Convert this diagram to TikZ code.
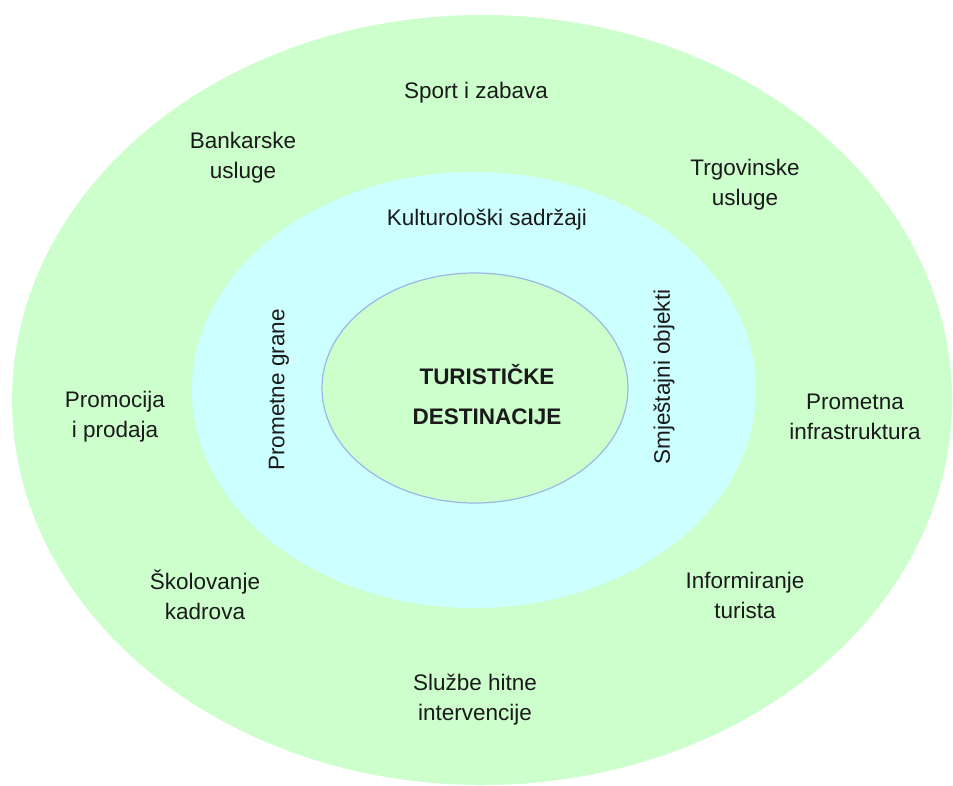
\documentclass[tikz,border=0pt]{standalone}
\usepackage{fontspec}
\setmainfont{Liberation Sans}
\definecolor{outergreen}{HTML}{CCFFCC}
\definecolor{midcyan}{HTML}{CCFFFF}
\definecolor{innerline}{HTML}{99B8E8}
\definecolor{txt}{HTML}{1A1A1A}
\begin{document}
\begin{tikzpicture}[x=1pt,y=-1pt,
  lbl/.style={align=center, text=txt, inner sep=0pt, font=\fontsize{22.5}{30}\selectfont},
  boldlbl/.style={lbl, font=\fontsize{22.5}{40}\selectfont\bfseries}]
\useasboundingbox (0,0) rectangle (953,785);
% rings
\fill[outergreen] (482,400) ellipse [x radius=470, y radius=385];
\fill[midcyan] (474,390) ellipse [x radius=282, y radius=218];
\filldraw[fill=outergreen, draw=innerline, line width=1.2pt] (475,388) ellipse [x radius=153, y radius=115];
% outer ring labels
\node[lbl] (sport) at (476,93) {Sport i zabava};
\node[lbl] (bank) at (243,158) {Bankarske\\usluge};
\node[lbl] (trg) at (745,185) {Trgovinske\\usluge};
\node[lbl] (promo) at (115,417) {Promocija\\i prodaja};
\node[lbl] (infra) at (855,417) {Prometna\\infrastruktura};
\node[lbl] (skol) at (205,595) {Školovanje\\kadrova};
\node[lbl] (info) at (745,595) {Informiranje\\turista};
\node[lbl] (sluz) at (475,700) {Službe hitne\\intervencije};
% middle ring labels
\node[lbl] (kult) at (487,220) {Kulturološki sadržaji};
\node[lbl, rotate=90] (grane) at (279,390) {Prometne grane};
\node[lbl, rotate=90] (smj) at (664,377) {Smještajni objekti};
% centre
\node[boldlbl] (dest) at (487,395) {TURISTIČKE\\DESTINACIJE};
\end{tikzpicture}
\end{document}
